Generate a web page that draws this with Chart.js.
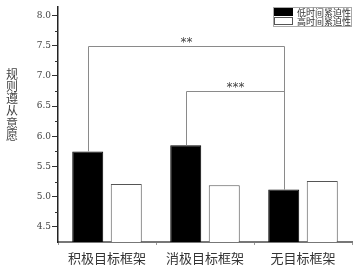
<!DOCTYPE html>
<html><head><meta charset="utf-8">
<script src="https://cdn.jsdelivr.net/npm/chart.js@4/dist/chart.umd.min.js"></script>
<style>html,body{margin:0;padding:0;background:#fff;}#wrap{width:358px;height:271px;position:relative;}</style>
</head><body><div id="wrap"><canvas id="c" width="358" height="271"></canvas></div>
<script>
const categories = ['积极目标框架', '消极目标框架', '无目标框架'];
const seriesNames = ['低时间紧迫性', '高时间紧迫性'];
const lowUrgency = [5.75, 5.85, 5.12];
const highUrgency = [5.21, 5.19, 5.26];
const yTicks = [4.5, 5.0, 5.5, 6.0, 6.5, 7.0, 7.5, 8.0];
const yMinorTicks = [4.75, 5.25, 5.75, 6.25, 6.75, 7.25, 7.75];
const yTitle = '规则遵从意愿';
// significance brackets: [from category, to category, bracket level, label]
const sigFrom = [0, 1];
const sigTo = [2, 2];
const sigLevel = [7.5, 6.75];
const sigLabel = ['**', '***'];

const extras = {
  id: 'extras',
  afterDatasetsDraw(chart) {
    const ctx = chart.ctx;
    const y = chart.scales.y;
    const meta = chart.getDatasetMeta(0);
    ctx.save();
    // minor y ticks
    ctx.strokeStyle = '#333';
    ctx.lineWidth = 1;
    yMinorTicks.forEach(v => {
      const py = Math.round(y.getPixelForValue(v)) + 0.5;
      ctx.beginPath();
      ctx.moveTo(y.right - 3, py);
      ctx.lineTo(y.right, py);
      ctx.stroke();
    });
    // brackets
    ctx.strokeStyle = '#8a8a8a';
    ctx.lineWidth = 1;
    ctx.fillStyle = '#444';
    ctx.font = '12px "DejaVu Sans"';
    ctx.textAlign = 'center';
    ctx.textBaseline = 'bottom';
    for (let i = 0; i < sigFrom.length; i++) {
      const a = meta.data[sigFrom[i]], b = meta.data[sigTo[i]];
      const x1 = Math.round(a.x) + 0.5, x2 = Math.round(b.x) + 0.5;
      const ly = Math.round(y.getPixelForValue(sigLevel[i])) + 0.5;
      ctx.beginPath();
      ctx.moveTo(x1, a.y);
      ctx.lineTo(x1, ly);
      ctx.lineTo(x2, ly);
      ctx.lineTo(x2, b.y);
      ctx.stroke();
      ctx.fillText(sigLabel[i], (x1 + x2) / 2, ly + 2);
    }
    // legend
    const lx = 273, ly0 = 7;
    ctx.strokeStyle = '#aaa';
    ctx.strokeRect(lx + 0.5, ly0 + 0.5, 78, 19);
    const ds = chart.data.datasets;
    ctx.font = '9px "Noto Sans CJK SC"';
    ctx.textAlign = 'left';
    ctx.textBaseline = 'middle';
    for (let i = 0; i < ds.length; i++) {
      const sy = ly0 + 1 + i * 9;
      ctx.fillStyle = ds[i].backgroundColor;
      ctx.fillRect(lx + 1, sy, 19, 8);
      ctx.strokeStyle = ds[i].borderColor;
      ctx.strokeRect(lx + 1.5, sy + 0.5, 18, 7);
      ctx.fillStyle = '#333';
      ctx.fillText(ds[i].label, lx + 24, sy + 4.5);
    }
    // y title (stacked characters)
    ctx.font = '12px "Noto Sans CJK SC"';
    ctx.fillStyle = '#444';
    ctx.textAlign = 'center';
    const chars = Array.from(yTitle);
    chars.forEach((ch, i) => ctx.fillText(ch, 12, 74 + i * 12.3));
    ctx.restore();
  }
};

new Chart(document.getElementById('c'), {
  type: 'bar',
  data: {
    labels: categories,
    datasets: [
      { label: seriesNames[0], data: lowUrgency, backgroundColor: '#000', borderColor: '#000', borderWidth: 1 },
      { label: seriesNames[1], data: highUrgency, backgroundColor: '#fff', borderColor: '#555', borderWidth: 1 }
    ]
  },
  options: {
    responsive: false,
    animation: false,
    devicePixelRatio: 1,
    layout: { padding: { left: 0, right: 6, top: 5, bottom: 0 } },
    plugins: { legend: { display: false }, tooltip: { enabled: false } },
    datasets: { bar: { categoryPercentage: 0.786, barPercentage: 0.805 } },
    scales: {
      x: {
        grid: { display: true, drawOnChartArea: false, tickLength: 3, color: '#999', tickColor: '#999' },
        border: { display: true, color: '#777', width: 2 },
        ticks: { color: '#333', padding: 5, font: { family: '"Noto Sans CJK SC"', size: 13 }, maxRotation: 0 },
        afterFit(s) { s.height = 29; }
      },
      y: {
        min: 4.25, max: 8.15,
        afterBuildTicks(s) { s.ticks = yTicks.map(v => ({ value: v })); },
        grid: { display: true, drawOnChartArea: false, tickLength: 6, tickColor: '#333' },
        border: { display: true, color: '#222', width: 1.5 },
        ticks: { color: '#444', padding: 1, font: { family: '"DejaVu Serif"', size: 9 }, callback: v => Number(v).toFixed(1) },
        afterFit(s) { s.width = 58; }
      }
    }
  },
  plugins: [extras]
});
</script></body></html>
